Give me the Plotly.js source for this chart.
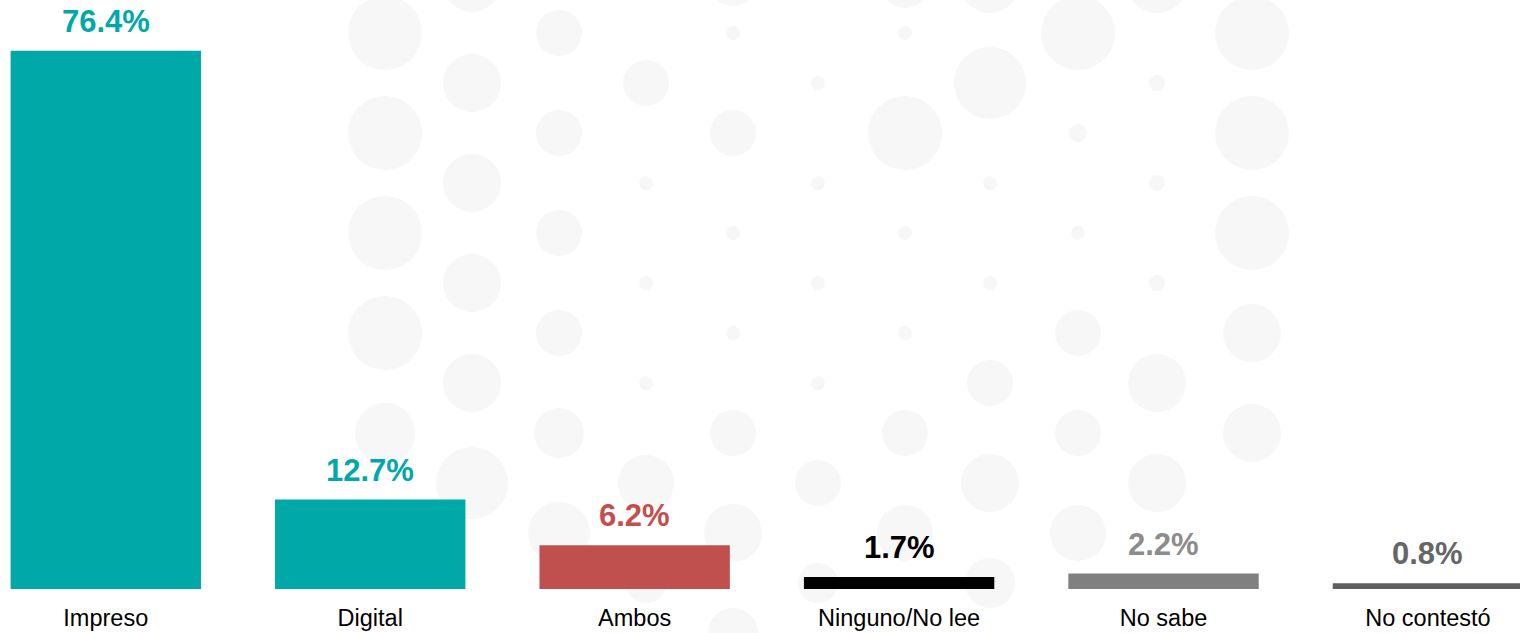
<!DOCTYPE html>
<html>
<head>
<meta charset="utf-8">
<script src="https://cdn.plot.ly/plotly-3.0.1.min.js"></script>
<style>html,body{margin:0;padding:0;background:#fff;}#chart{width:1520px;height:633px;}</style>
</head>
<body>
<div id="chart"></div>
<script>
var categories = ["Impreso", "Digital", "Ambos", "Ninguno/No lee", "No sabe", "No contestó"];
var values = [76.4, 12.7, 6.2, 1.7, 2.2, 0.8];
var valueLabels = ["76.4%", "12.7%", "6.2%", "1.7%", "2.2%", "0.8%"];
var barColors = ["#00A9A8", "#00A9A8", "#C0504D", "#000000", "#808080", "#5F5F5F"];
var labelColors = ["#00A9A8", "#00A9A8", "#C0504D", "#000000", "#8C8C8C", "#666666"];

// decorative faint dot pattern in the background (page pixels: cx, cy, diameter)
var decoDots = [
  [385,33,74],[385,133,74],[385,233,74],[385,333,74],[385,433,60],
  [472,-17,58],[472,83,58],[472,183,58],[472,283,58],[472,383,58],[472,483,72],
  [559,33,46],[559,133,46],[559,233,46],[559,333,46],[559,433,50],[559,533,62],
  [646,83,46],[646,183,14],[646,283,14],[646,383,14],[646,483,56],[646,583,40],
  [733,-17,46],[733,33,14],[733,133,46],[733,233,14],[733,333,14],[733,433,46],[733,533,58],[733,633,50],
  [818,83,14],[818,183,14],[818,283,14],[818,383,14],[818,483,46],[818,583,40],
  [905,-17,50],[905,33,14],[905,133,74],[905,233,14],[905,333,14],[905,433,46],[905,533,56],
  [990,-17,60],[990,83,72],[990,183,14],[990,283,14],[990,383,46],[990,483,58],[990,583,50],
  [1078,33,74],[1078,133,18],[1078,233,14],[1078,333,46],[1078,433,46],[1078,533,56],
  [1157,-17,60],[1157,83,16],[1157,183,16],[1157,283,16],[1157,383,58],[1157,483,58],
  [1252,33,74],[1252,133,74],[1252,233,74],[1252,333,58],[1252,433,58]
];

var trace = {
  type: "bar",
  x: categories,
  y: values,
  marker: {color: barColors},
  hoverinfo: "none"
};

var annotations = categories.map(function (c, i) {
  return {
    x: c, y: values[i], xref: "x", yref: "y",
    text: "<b>" + valueLabels[i] + "</b>",
    showarrow: false, yanchor: "bottom", yshift: 10,
    font: {family: "Liberation Sans, Arial, sans-serif", size: 31, color: labelColors[i]}
  };
});

var W = 1520, PH = 589;
var shapes = decoDots.map(function (d) {
  var r = d[2] / 2;
  return {
    type: "circle", xref: "paper", yref: "paper", layer: "below",
    x0: (d[0] - r) / W, x1: (d[0] + r) / W,
    y0: (PH - (d[1] + r)) / PH, y1: (PH - (d[1] - r)) / PH,
    fillcolor: "#F7F7F7", line: {width: 0}
  };
});

var layout = {
  width: 1520, height: 633,
  margin: {l: 0, r: 0, t: 0, b: 44, pad: 0},
  paper_bgcolor: "#ffffff", plot_bgcolor: "rgba(0,0,0,0)",
  showlegend: false,
  bargap: 0.28,
  xaxis: {
    type: "category", range: [-0.4, 5.348],
    showgrid: false, zeroline: false, showline: false, ticks: "",
    ticklabelstandoff: 12,
    tickfont: {family: "Liberation Sans, Arial, sans-serif", size: 23.5, color: "#000000"}
  },
  yaxis: {
    range: [0, 83.6], visible: false, showgrid: false, zeroline: false
  },
  annotations: annotations,
  shapes: shapes
};

Plotly.newPlot("chart", [trace], layout, {displayModeBar: false, staticPlot: true});
</script>
</body>
</html>
